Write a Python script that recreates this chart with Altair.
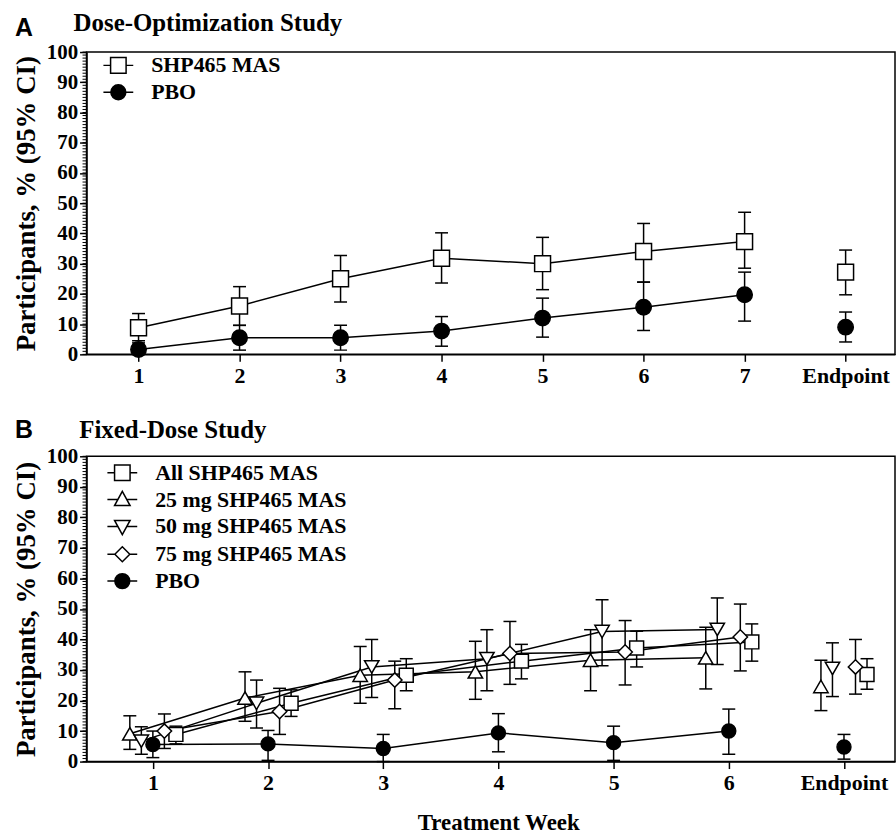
import json
import altair as alt
import pandas as pd

# ---------------- data ----------------
weeks_A = ["1", "2", "3", "4", "5", "6", "7", "Endpoint"]
series_A = ["SHP465 MAS", "PBO"]
A_shp = [8.8, 16.0, 25.0, 31.8, 30.0, 34.0, 37.3, 27.2]
A_shp_lo = [4.5, 9.6, 17.3, 23.6, 21.4, 23.9, 28.5, 19.7]
A_shp_hi = [13.5, 22.4, 32.7, 40.2, 38.7, 43.3, 47.0, 34.5]
A_pbo = [1.6, 5.5, 5.5, 7.7, 12.0, 15.6, 19.7, 9.0]
A_pbo_lo = [0.0, 1.4, 1.4, 2.7, 5.7, 7.9, 11.0, 4.1]
A_pbo_hi = [3.8, 9.6, 9.6, 12.5, 18.6, 23.9, 27.2, 14.0]

weeks_B = ["1", "2", "3", "4", "5", "6", "Endpoint"]
series_B = ["All SHP465 MAS", "25 mg SHP465 MAS", "50 mg SHP465 MAS", "75 mg SHP465 MAS", "PBO"]
B_all = [8.9, 19.1, 28.3, 32.9, 37.2, 39.2, 28.5]
B_all_lo = [5.8, 14.8, 23.2, 27.1, 31.0, 32.9, 23.7]
B_all_hi = [11.6, 23.5, 33.7, 38.4, 42.7, 45.1, 33.7]
B_25 = [9.1, 20.8, 28.3, 29.4, 33.2, 34.0, 24.6]
B_25_lo = [4.0, 13.2, 19.1, 20.4, 23.2, 23.8, 16.7]
B_25_hi = [15.0, 29.4, 37.7, 39.4, 43.2, 44.0, 33.2]
B_50 = [6.7, 19.1, 31.0, 33.7, 42.6, 43.3, 30.5]
B_50_lo = [2.4, 11.0, 21.0, 23.2, 31.4, 31.8, 21.3]
B_50_hi = [11.4, 26.7, 40.0, 43.2, 53.0, 53.6, 38.9]
B_75 = [10.0, 16.4, 26.7, 35.4, 35.9, 40.8, 31.0]
B_75_lo = [4.3, 8.9, 17.3, 25.3, 25.1, 29.7, 22.1]
B_75_hi = [15.6, 24.0, 32.9, 45.9, 46.2, 51.6, 40.0]
B_pbo = [5.6, 5.8, 4.3, 9.4, 6.2, 10.0, 4.8]
B_pbo_lo = [1.3, 0.4, 0.0, 3.2, 0.4, 2.4, 0.8]
B_pbo_hi = [10.0, 10.2, 8.9, 15.7, 11.6, 17.2, 8.9]

y_major = list(range(0, 101, 10))
y_minor = list(range(0, 101))

# ---------------- styling ----------------
SERIF = "Liberation Serif"
SANS = "Liberation Sans"
W = 813

dodge_B = {"All SHP465 MAS": 0.2, "25 mg SHP465 MAS": -0.2, "50 mg SHP465 MAS": -0.1,
           "75 mg SHP465 MAS": 0.1, "PBO": 0.0}

# legend symbols: marker with a short line through it
P_SQ = "M-1,0H-0.52M0.52,0H1M-0.52,-0.52H0.52V0.52H-0.52Z"
P_CI = "M-1,0H-0.5M0.5,0H1M-0.5,0A0.5,0.5,0,1,1,0.5,0A0.5,0.5,0,1,1,-0.5,0Z"
P_TU = "M-1,0H-0.3M0.3,0H1M0,-0.55L0.52,0.4L-0.52,0.4Z"
P_TD = "M-1,0H-0.3M0.3,0H1M0,0.55L0.52,-0.4L-0.52,-0.4Z"
P_DI = "M-1,0H-0.5M0.5,0H1M0,-0.5L0.5,0L0,0.5L-0.5,0Z"


def make_df(weeks, names, stats, dodge):
    rows = []
    for name, (m, lo, hi) in zip(names, stats):
        for i, w in enumerate(weeks):
            rows.append({"series": name, "week": w, "x": i + 1 + dodge.get(name, 0.0),
                         "y": m[i], "lo": lo[i], "hi": hi[i], "endpoint": w == "Endpoint"})
    return pd.DataFrame(rows)


def panel(df, weeks, names, shapes, fills, sizes, leg_paths, x_domain, height,
          letter, title, letter_y, title_x, title_y, leg_x, leg_y, row_pad, xtitle):
    xscale = alt.Scale(domain=x_domain, nice=False, zero=False)
    yscale = alt.Scale(domain=[0, 100], nice=False, zero=True)
    label_expr = json.dumps(weeks) + "[datum.value - 1]"
    xaxis_kw = dict(values=list(range(1, len(weeks) + 1)), labelExpr=label_expr,
                    grid=False, domainColor="black", domainWidth=1.5, tickColor="black",
                    tickWidth=1.5, tickSize=7, labelFont=SERIF, labelFontWeight="bold",
                    labelFontSize=22, labelColor="black", labelPadding=4,
                    labelFlush=False, labelOverlap=False)
    if xtitle:
        xaxis = alt.Axis(title=xtitle, titleFont=SERIF, titleFontWeight="bold", titleFontSize=23,
                         titleColor="black", titleX=414, titleY=61, titleBaseline="middle",
                         titleAlign="center", **xaxis_kw)
    else:
        xaxis = alt.Axis(title=None, **xaxis_kw)
    yaxis = alt.Axis(values=y_major, grid=False, domainColor="black", domainWidth=1.5,
                     tickColor="black", tickWidth=1.5, tickSize=7, labelFont=SERIF,
                     labelFontWeight="bold", labelFontSize=21, labelColor="black",
                     labelPadding=2, title="Participants, % (95% CI)", titleFont=SERIF,
                     titleFontWeight="bold", titleFontSize=27, titleColor="black",
                     titleAngle=-90, titleX=-60, titleY=height / 2, titleAlign="center",
                     titleBaseline="middle")

    def X(f):
        return alt.X(f + ":Q", scale=xscale, axis=xaxis)

    def Y(f):
        return alt.Y(f + ":Q", scale=yscale, axis=yaxis)

    base = alt.Chart(df)
    layers = []
    layers.append(alt.Chart(pd.DataFrame({"v": y_minor})).mark_rule(
        color="black", strokeWidth=1).encode(x=alt.value(-4), x2=alt.value(0), y=Y("v")))
    layers.append(base.transform_filter("!datum.endpoint").mark_line(
        color="black", strokeWidth=1.5).encode(x=X("x"), y=Y("y"), detail="series:N", order="x:Q"))
    layers.append(base.mark_rule(color="black", strokeWidth=1.5).encode(
        x=X("x"), y=Y("lo"), y2="hi:Q"))
    for f in ("lo", "hi"):
        layers.append(base.mark_tick(orient="horizontal", color="black", size=13, thickness=1.5,
                                     opacity=1).encode(x=X("x"), y=Y(f)))
    for name, shp, fill, size in zip(names, shapes, fills, sizes):
        layers.append(base.transform_filter(alt.datum.series == name).mark_point(
            shape=shp, fill=fill, size=size, stroke="black", strokeWidth=1.5,
            opacity=1, fillOpacity=1).encode(x=X("x"), y=Y("y")))
    legend = alt.Legend(
        title=None, orient="none", legendX=leg_x, legendY=leg_y, padding=0,
        symbolSize=900, symbolStrokeWidth=1.5, symbolStrokeColor="black", symbolOpacity=1,
        labelFont=SERIF, labelFontWeight="bold", labelFontSize=22, labelColor="black",
        labelOffset=17, rowPadding=row_pad, labelLimit=500)
    layers.append(base.transform_filter("false").mark_point(
        color="black", strokeWidth=1.5, opacity=1, fillOpacity=1).encode(
        x=X("x"), y=Y("y"),
        shape=alt.Shape("series:N", scale=alt.Scale(domain=names, range=leg_paths), legend=legend),
        fill=alt.Fill("series:N", scale=alt.Scale(domain=names, range=fills), legend=legend),
        stroke=alt.Stroke("series:N", scale=alt.Scale(domain=names, range=["black"] * len(names)),
                          legend=legend),
    ))
    layers.append(alt.Chart(pd.DataFrame({"t": [letter]})).mark_text(
        align="left", baseline="alphabetic", font=SANS, fontWeight="bold", fontSize=25,
        color="black").encode(x=alt.value(-72), y=alt.value(letter_y), text="t:N"))
    layers.append(alt.Chart(pd.DataFrame({"t": [title]})).mark_text(
        align="left", baseline="alphabetic", font=SERIF, fontWeight="bold", fontSize=25,
        color="black").encode(x=alt.value(title_x), y=alt.value(title_y), text="t:N"))
    return alt.layer(*layers).properties(width=W, height=height)


dfA = make_df(weeks_A, series_A,
              [(A_shp, A_shp_lo, A_shp_hi), (A_pbo, A_pbo_lo, A_pbo_hi)], {})
dfB = make_df(weeks_B, series_B,
              [(B_all, B_all_lo, B_all_hi), (B_25, B_25_lo, B_25_hi), (B_50, B_50_lo, B_50_hi),
               (B_75, B_75_lo, B_75_hi), (B_pbo, B_pbo_lo, B_pbo_hi)], dodge_B)

panelA = panel(dfA, weeks_A, series_A, ["square", "circle"], ["white", "black"], [256, 240],
               [P_SQ, P_CI], [0.485, 8.489], 304, "A", "Dose-Optimization Study",
               -16.5, -13, -21, 16, -2.6, -6.8, None)
panelB = panel(dfB, weeks_B, series_B,
               ["square", "triangle-up", "triangle-down", "diamond", "circle"],
               ["white", "white", "white", "white", "black"], [196, 210, 210, 210, 196],
               [P_SQ, P_TU, P_TD, P_DI, P_CI], [0.424, 7.443], 307, "B", "Fixed-Dose Study",
               -18.5, -7.3, -18, 20, 0.5, -3.2, "Treatment Week")

chart = alt.vconcat(panelA, panelB, spacing=29.5).resolve_scale(
    shape="independent", fill="independent", stroke="independent"
).resolve_legend(
    shape="independent", fill="independent", stroke="independent"
).properties(
    padding={"left": 12, "top": 8, "right": 0, "bottom": 0}, background="white"
).configure_view(stroke="black", strokeWidth=1.5)

chart.save("out.html", embed_options={"renderer": "svg", "actions": False})
